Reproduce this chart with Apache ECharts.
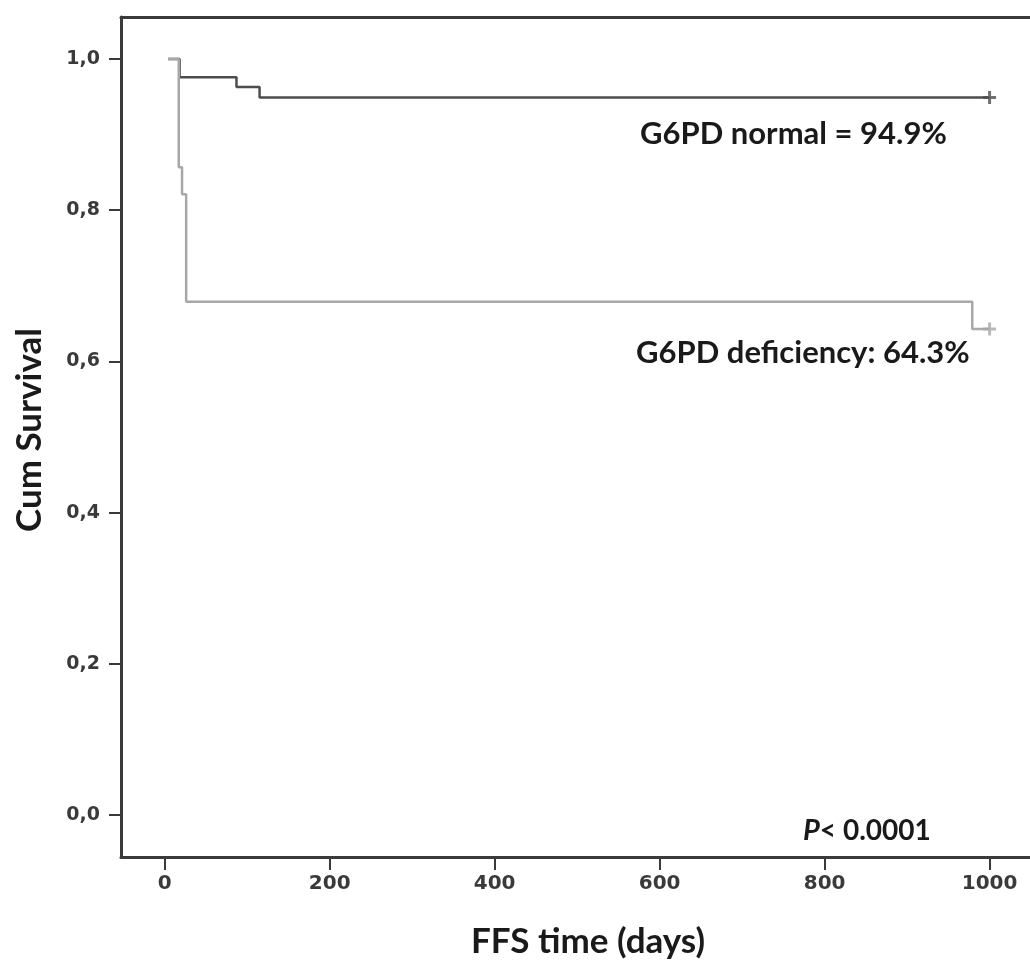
<!DOCTYPE html>
<html>
<head>
<meta charset="utf-8">
<script src="https://cdn.jsdelivr.net/npm/echarts@6/dist/echarts.min.js"></script>
<style>
  html, body { margin: 0; padding: 0; background: #fff; }
  #main { width: 1030px; height: 965px; }
</style>
</head>
<body>
<div id="main"></div>
<script>
// Kaplan-Meier steps: [time (days), cum survival]
var normalTimes = [4, 18, 87, 115, 1000];
var normalSurv = [1.0, 0.976, 0.963, 0.949, 0.949];
var deficTimes = [4, 17, 21, 26, 979, 1000];
var deficSurv = [1.0, 0.857, 0.821, 0.679, 0.643, 0.643];
// censored marks at the end of follow-up
var normalCensor = [[1000, 0.949]];
var deficCensor = [[1000, 0.643]];

var xTicks = [0, 200, 400, 600, 800, 1000];
var yTicks = [0, 0.2, 0.4, 0.6, 0.8, 1.0];

function pairs(ts, vs) {
	return ts.map(function (t, i) { return [t, vs[i]]; });
}

var crossPath = "path://M5,0h3v5h5v3h-5v5h-3v-5h-5v-3h5z";
var axisColor = "#3a3a3a";
var lab = "Lato, 'Open Sans', sans-serif";
var dv = "'DejaVu Sans', sans-serif";

var myChart = echarts.init(document.getElementById("main"));
myChart.setOption({
	backgroundColor: "#ffffff",
	animation: false,
	grid: { left: 121, top: 17, right: 0, bottom: 108, containLabel: false },
	xAxis: [
		{
			type: "value",
			min: -53,
			max: 1049,
			position: "bottom",
			splitLine: { show: false },
			axisLine: { show: true, onZero: false, lineStyle: { color: axisColor, width: 3 } },
			axisTick: { show: true, customValues: xTicks, length: 13, lineStyle: { color: axisColor, width: 2 } },
			axisLabel: {
				customValues: xTicks,
				margin: 17,
				color: "#3a3a3a",
				fontFamily: dv,
				fontWeight: "bold",
				fontSize: 20,
				formatter: function (v) { return String(v); }
			}
		},
		{
			type: "value",
			min: -53,
			max: 1049,
			position: "top",
			splitLine: { show: false },
			axisLine: { show: true, onZero: false, lineStyle: { color: axisColor, width: 3 } },
			axisTick: { show: false },
			axisLabel: { show: false }
		}
	],
	yAxis: {
		type: "value",
		min: -0.0556,
		max: 1.0556,
		splitLine: { show: false },
		axisLine: { show: true, onZero: false, lineStyle: { color: axisColor, width: 3 } },
		axisTick: { show: true, customValues: yTicks, length: 12, lineStyle: { color: axisColor, width: 2 } },
		axisLabel: {
			customValues: yTicks,
			margin: 21,
			color: "#3a3a3a",
			fontFamily: dv,
			fontWeight: "bold",
			fontSize: 19,
			formatter: function (v) { return v.toFixed(1).replace(".", ","); }
		}
	},
	series: [
		{
			name: "G6PD normal",
			type: "line",
			step: "end",
			symbol: "none",
			lineStyle: { color: "#4d4d4d", width: 2.5 },
			data: pairs(normalTimes, normalSurv)
		},
		{
			name: "G6PD deficiency",
			type: "line",
			step: "end",
			symbol: "none",
			lineStyle: { color: "#a8a8a8", width: 2.5 },
			data: pairs(deficTimes, deficSurv)
		},
		{
			type: "scatter",
			symbol: crossPath,
			symbolSize: 13,
			itemStyle: { color: "#4d4d4d" },
			data: normalCensor
		},
		{
			type: "scatter",
			symbol: crossPath,
			symbolSize: 13,
			itemStyle: { color: "#a8a8a8" },
			data: deficCensor
		}
	],
	graphic: [
		{
			type: "text",
			left: 640, top: 118,
			style: { text: "G6PD normal = 94.9%", font: "bold 31px " + lab, fill: "#1a1a1a" }
		},
		{
			type: "text",
			left: 636, top: 337,
			style: { text: "G6PD deficiency: 64.3%", font: "bold 31px " + lab, fill: "#1a1a1a" }
		},
		{
			type: "text",
			left: 803, top: 816,
			style: {
				rich: {
					p: { fontFamily: lab, fontStyle: "italic", fontWeight: "bold", fontSize: 29, fill: "#1a1a1a" },
					r: { fontFamily: lab, fontWeight: "bold", fontSize: 28, fill: "#1a1a1a" }
				},
				text: "{p|P}{r|< 0.0001}"
			}
		},
		{
			type: "text",
			x: 588, y: 942,
			style: { text: "FFS time (days)", font: "bold 35px " + lab, fill: "#1a1a1a", align: "center", verticalAlign: "middle" }
		},
		{
			type: "text",
			x: 30, y: 430,
			rotation: Math.PI / 2,
			style: { text: "Cum Survival", font: "bold 35px " + lab, fill: "#1a1a1a", align: "center", verticalAlign: "middle" }
		}
	]
});
</script>
</body>
</html>
